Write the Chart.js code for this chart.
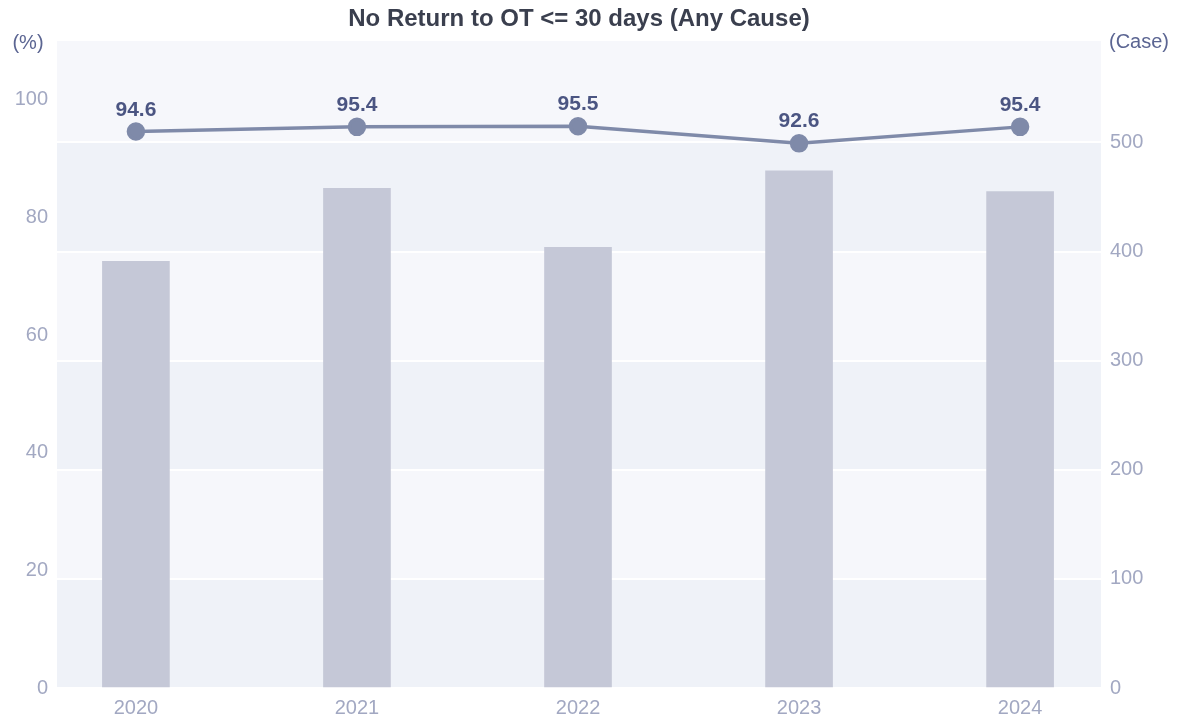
<!DOCTYPE html>
<html>
<head>
<meta charset="utf-8">
<script src="https://cdn.jsdelivr.net/npm/chart.js@4.4.0/dist/chart.umd.min.js"></script>
<style>
  html, body { margin: 0; padding: 0; background: #ffffff; }
  #chart { display: block; }
</style>
</head>
<body>
<canvas id="chart" width="1181" height="720"></canvas>
<script>
// ── Data ────────────────────────────────────────────────
const years     = ['2020', '2021', '2022', '2023', '2024'];
const caseCount = [391, 458, 404, 474, 455];
const noReturn  = [94.6, 95.4, 95.5, 92.6, 95.4];
const pctTicks  = [0, 20, 40, 60, 80, 100];
const caseTicks = [0, 100, 200, 300, 400, 500];

const FONT      = '"Liberation Sans", Arial, Helvetica, sans-serif';
const tickColor = '#a2a8c2';
const bandDark  = '#eff2f8';
const bandLight = '#f6f7fb';

/* ── Plugin: striped background, titles, value labels ── */
const decor = {
  id: 'decor',
  beforeDraw(chart) {
    const { ctx, chartArea: a } = chart;
    const yR = chart.scales.yCase;
    ctx.save();
    ctx.fillStyle = bandLight;
    ctx.fillRect(a.left, a.top, a.right - a.left, a.bottom - a.top);
    ctx.fillStyle = bandDark;
    for (let i = 0; i < caseTicks.length - 1; i += 2) {
      const y1 = yR.getPixelForValue(caseTicks[i]);
      const y2 = yR.getPixelForValue(caseTicks[i + 1]);
      ctx.fillRect(a.left, y2, a.right - a.left, y1 - y2);
    }
    ctx.restore();
  },
  afterDatasetsDraw(chart) {
    const { ctx, chartArea: a } = chart;
    ctx.save();
    // value labels above the line points
    const meta = chart.getDatasetMeta(1);
    ctx.font = 'bold 21px ' + FONT;
    ctx.fillStyle = '#4b5582';
    ctx.textAlign = 'center';
    ctx.textBaseline = 'alphabetic';
    meta.data.forEach((pt, i) => {
      ctx.fillText(noReturn[i].toFixed(1), pt.x, pt.y - 16);
    });
    // title
    ctx.font = 'bold 24px ' + FONT;
    ctx.fillStyle = '#3a3f4e';
    ctx.textBaseline = 'middle';
    ctx.fillText('No Return to OT <= 30 days (Any Cause)', (a.left + a.right) / 2, 19);
    // axis unit labels
    ctx.font = '20px ' + FONT;
    ctx.fillStyle = '#5b6592';
    ctx.fillText('(%)', 28, 43);
    ctx.fillText('(Case)', 1139, 42);
    ctx.restore();
  }
};

new Chart(document.getElementById('chart'), {
  type: 'bar',
  data: {
    datasets: [
      {
        type: 'bar',
        label: 'Case',
        data: caseCount.map((v, i) => ({ x: i, y: v })),
        yAxisID: 'yCase',
        backgroundColor: 'rgba(197,200,215,1)',
        borderWidth: 0,
        barThickness: 67,
        order: 2
      },
      {
        type: 'line',
        label: 'No Return (%)',
        data: noReturn.map((v, i) => ({ x: i, y: v })),
        yAxisID: 'yPct',
        borderColor: '#7f8aa9',
        backgroundColor: '#7f8aa9',
        borderWidth: 3.5,
        pointRadius: 7.5,
        pointHoverRadius: 7.5,
        tension: 0,
        order: 1
      }
    ]
  },
  options: {
    responsive: false,
    animation: false,
    devicePixelRatio: 1,
    layout: { padding: { top: 41, left: 0, right: 0, bottom: 0 } },
    plugins: { legend: { display: false }, tooltip: { enabled: false }, title: { display: false } },
    scales: {
      x: {
        type: 'linear',
        min: -0.357, max: 4.366,
        offset: false,
        grid: { display: false, drawTicks: false },
        border: { display: false },
        ticks: {
          color: tickColor, font: { family: FONT, size: 20 }, padding: 8, maxRotation: 0,
          callback: v => years[v]
        },
        afterBuildTicks(s) { s.ticks = years.map((_, i) => ({ value: i })); },
        afterFit(s) { s.height = 32; }
      },
      yPct: {
        position: 'left',
        min: 0, max: 110,
        grid: { display: false, drawTicks: false },
        border: { display: false },
        ticks: { color: tickColor, font: { family: FONT, size: 20 }, padding: 9 },
        afterBuildTicks(s) { s.ticks = pctTicks.map(v => ({ value: v })); },
        afterFit(s) { s.width = 57; }
      },
      yCase: {
        position: 'right',
        min: 0, max: 593,
        grid: { color: '#ffffff', lineWidth: 2, drawTicks: false },
        border: { display: false },
        ticks: { color: tickColor, font: { family: FONT, size: 20 }, padding: 9 },
        afterBuildTicks(s) { s.ticks = caseTicks.map(v => ({ value: v })); },
        afterFit(s) { s.width = 80; }
      }
    }
  },
  plugins: [decor]
});
</script>
</body>
</html>
